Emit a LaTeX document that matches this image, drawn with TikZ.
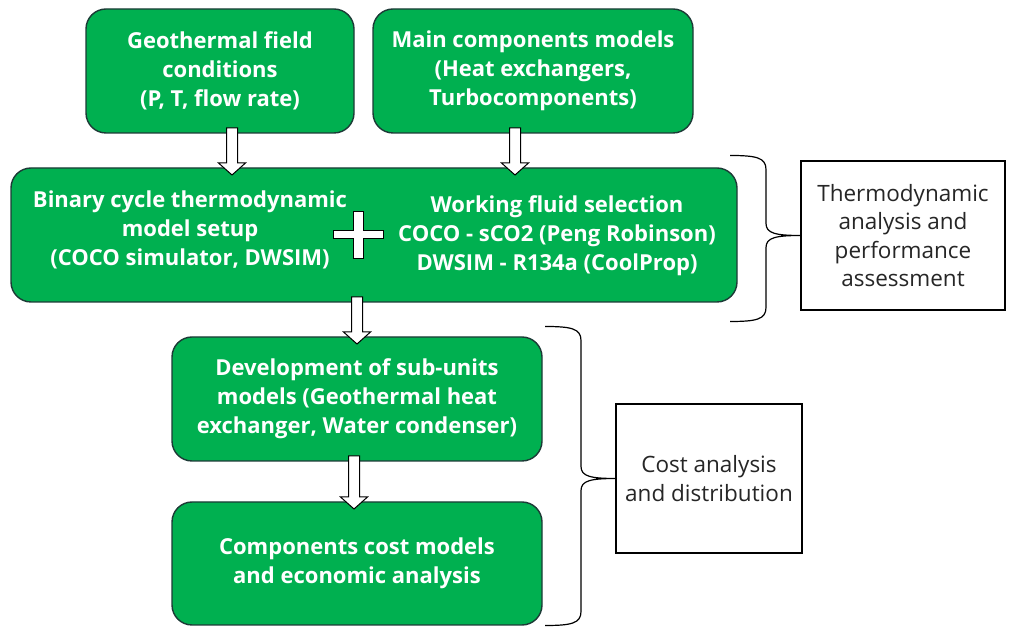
\documentclass[tikz,border=0pt]{standalone}
\usepackage{fontspec}
\setmainfont{Open Sans}
\usetikzlibrary{positioning, calc}
\definecolor{stagegreen}{HTML}{00B050}
\definecolor{stageedge}{HTML}{1C3A36}

% hollow block arrow from the bottom of one node into the top of the next
\newcommand{\flowarrow}[3]{%
  \draw[arrowbody] let \p1=($(#1.south)+(#3,5pt)$), \p2=(#2.north) in
    (\x1-5.5pt,\y1) -- (\x1+5.5pt,\y1) -- (\x1+5.5pt,\y2+5pt) -- (\x1+13.5pt,\y2+5pt)
    -- (\x1,\y2-7pt) -- (\x1-13.5pt,\y2+5pt) -- (\x1-5.5pt,\y2+5pt) -- cycle;}
% curly brace whose tip touches the west side of a node
\newcommand{\groupbrace}[3]{%
  \draw[bracestroke] let \p1=(#1.west) in
    (\x1-71pt,\y1+#2) .. controls (\x1-45pt,\y1+#2) and (\x1-35pt,\y1+#2-2pt) .. (\x1-35pt,\y1+#2-14pt)
    -- (\x1-35pt,\y1+12pt) .. controls (\x1-35pt,\y1+2pt) and (\x1-25pt,\y1) .. (\x1,\y1)
    .. controls (\x1-25pt,\y1) and (\x1-35pt,\y1-2pt) .. (\x1-35pt,\y1-12pt)
    -- (\x1-35pt,\y1-#3+14pt) .. controls (\x1-35pt,\y1-#3+2pt) and (\x1-45pt,\y1-#3) .. (\x1-71pt,\y1-#3);}

\begin{document}
\begin{tikzpicture}[x=1pt, y=1pt,
  stage/.style={draw=stageedge, line width=1.4pt, fill=stagegreen, rounded corners=20pt,
    inner sep=0pt, outer sep=0pt, text=white, align=center,
    font=\bfseries\fontsize{22}{29}\selectfont},
  stagetext/.style={text=white, align=center, inner sep=0pt,
    font=\bfseries\fontsize{22}{29}\selectfont},
  outcome/.style={draw=black, line width=1.2pt, fill=white, inner sep=0pt, outer sep=0pt,
    align=center, text=black!85, font=\fontsize{22.5}{28.5}\selectfont},
  arrowbody/.style={draw=black, line width=1pt, fill=white},
  bracestroke/.style={draw=black, line width=1.2pt},
]
  \useasboundingbox (0,0) rectangle (1011,628);

  \node[stage, minimum width=268pt, minimum height=124pt] (field) at (220,557)
       {Geothermal field\\conditions\\(P, T, flow rate)};
  \node[stage, minimum width=320pt, minimum height=124pt, right=19pt of field] (parts)
       {Main components models\\(Heat exchangers,\\Turbocomponents)};

  \node[stage, minimum width=726pt, minimum height=134pt] (cycle) at (374,393) {};
  \node[stagetext] (setup) at (190,398.5) {Binary cycle thermodynamic\\model setup\\(COCO simulator, DWSIM)};
  \node[stagetext] (fluid) at (557,392) {Working fluid selection\\COCO - sCO2 (Peng Robinson)\\DWSIM - R134a (CoolProp)};
  \coordinate (plus) at (358,393);
  \draw[arrowbody, shift={(plus)}] (-25,4) -- (-5,4) -- (-5,23.5) -- (5,23.5) -- (5,4) -- (25,4)
       -- (25,-4) -- (5,-4) -- (5,-23.5) -- (-5,-23.5) -- (-5,-4) -- (-25,-4) -- cycle;

  \node[stage, minimum width=370pt, minimum height=124pt] (subunits) at (357,229)
       {Development of sub-units\\models (Geothermal heat\\exchanger, Water condenser)};
  \node[stage, minimum width=370pt, minimum height=123pt, below=41pt of subunits] (costs)
       {Components cost models\\and economic analysis};

  \node[outcome, minimum width=204pt, minimum height=149pt] (thermo) at (903,392.5)
       {Thermodynamic\\analysis and\\performance\\assessment};
  \node[outcome, minimum width=186pt, minimum height=149pt] (cost) at (709,149.5)
       {Cost analysis\\and distribution};

  \flowarrow{field}{cycle}{12pt}
  \flowarrow{parts}{cycle}{-18pt}
  \flowarrow{cycle}{subunits}{-17pt}
  \flowarrow{subunits}{costs}{-3pt}

  \groupbrace{thermo}{80pt}{86pt}
  \groupbrace{cost}{152pt}{147pt}
\end{tikzpicture}
\end{document}
